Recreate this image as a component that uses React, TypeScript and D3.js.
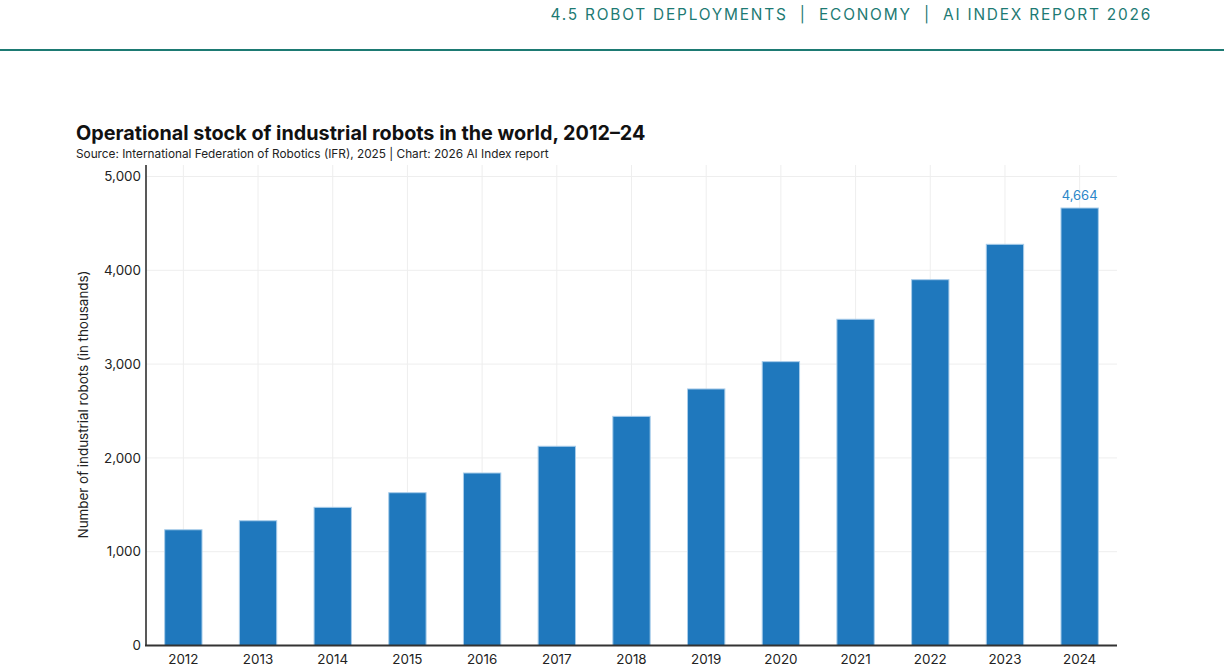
import * as d3 from "d3";

const YEARS = ["2012", "2013", "2014", "2015", "2016", "2017", "2018", "2019", "2020", "2021", "2022", "2023", "2024"];
const STOCK = [1234, 1330, 1473, 1629, 1839, 2124, 2443, 2735, 3026, 3478, 3900, 4277, 4664];
const Y_TICKS = [0, 1000, 2000, 3000, 4000, 5000];
const HEADER = ["4.5 ROBOT DEPLOYMENTS", "ECONOMY", "AI INDEX REPORT 2026"];

const W = 1224;
const H = 671;
const FONT = "Inter, 'Noto Sans', sans-serif";
const TEAL = "#1d7a73";
const BAR = "#1f78bd";

export default function App() {
  const left = 146;
  const right = 1117;
  const top = 165;
  const bottom = 645.5;

  const x = d3.scaleBand().domain(YEARS).range([left, right]).paddingInner(0.5).paddingOuter(0.25);
  const xc = d3.scalePoint().domain(YEARS).range([left, right]).padding(0.5);
  const y = d3.scaleLinear().domain([0, 5000]).range([bottom, bottom - 469]);
  const yTop = y.invert(top);

  const last = YEARS.length - 1;
  const fmt = d3.format(",");

  return (
    <svg
      width={W}
      height={H}
      style={{ position: "absolute", top: 0, left: 0, background: "#fff" }}
      fontFamily={FONT}
    >
      {/* page header */}
      <text
        x={1152}
        y={20}
        textAnchor="end"
        fill={TEAL}
        fontSize={15.4}
        letterSpacing={1.8}
        style={{ whiteSpace: "pre" }}
      >
        {HEADER.join("  |  ")}
      </text>
      <rect x={0} y={49} width={W} height={2} fill={TEAL} />

      {/* title */}
      <text x={76} y={140} fontSize={19.8} fontWeight={700} fill="#111">
        Operational stock of industrial robots in the world, 2012–24
      </text>
      <text x={76} y={158} fontSize={11.8} fill="#222">
        Source: International Federation of Robotics (IFR), 2025 | Chart: 2026 AI Index report
      </text>

      {/* grid */}
      {Y_TICKS.filter((t) => t > 0).map((t) => (
        <line key={"h" + t} x1={left} x2={right} y1={y(t)} y2={y(t)} stroke="#eeeeee" strokeWidth={1} />
      ))}
      {YEARS.map((yr) => (
        <line key={"v" + yr} x1={xc(yr)} x2={xc(yr)} y1={y(yTop)} y2={bottom} stroke="#eeeeee" strokeWidth={1} />
      ))}

      {/* bars */}
      {YEARS.map((yr, i) => (
        <rect
          key={yr}
          x={x(yr)}
          y={y(STOCK[i])}
          width={x.bandwidth()}
          height={bottom - y(STOCK[i])}
          fill={BAR}
          stroke="#a9cdea"
          strokeWidth={1}
        />
      ))}
      <text
        x={xc(YEARS[last])}
        y={y(STOCK[last]) - 8}
        textAnchor="middle"
        fontSize={13}
        fill="#2b86c8"
      >
        {fmt(STOCK[last])}
      </text>

      {/* axes */}
      <line x1={left} x2={left} y1={y(yTop)} y2={bottom} stroke="#222" strokeWidth={1.5} />
      <line x1={left - 1} x2={right} y1={bottom} y2={bottom} stroke="#333" strokeWidth={2} />
      {Y_TICKS.map((t) => (
        <text key={"yt" + t} x={141} y={y(t)} dy="0.35em" textAnchor="end" fontSize={13.4} fill="#222">
          {fmt(t)}
        </text>
      ))}
      {YEARS.map((yr) => (
        <text key={"xt" + yr} x={xc(yr)} y={664} textAnchor="middle" fontSize={13.4} fill="#222">
          {yr}
        </text>
      ))}
      <text
        transform={`translate(88,${(268 + 541) / 2}) rotate(-90)`}
        textAnchor="middle"
        fontSize={13.4}
        fill="#222"
      >
        Number of industrial robots (in thousands)
      </text>
    </svg>
  );
}
